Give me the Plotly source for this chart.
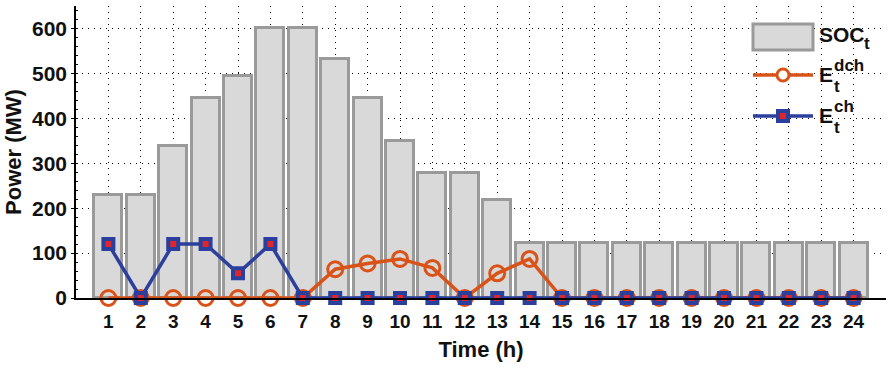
import plotly.graph_objects as go

hours = list(range(1, 25))
soc = [230, 230, 338, 445, 494, 600, 600, 531, 445, 350, 278, 278, 219,
       122, 122, 122, 122, 122, 122, 122, 122, 122, 122, 122]
e_dch = [0, 0, 0, 0, 0, 0, 0, 64, 77, 87, 67, 0, 55, 87,
         0, 0, 0, 0, 0, 0, 0, 0, 0, 0]
e_ch = [120, 0, 120, 120, 55, 120, 0, 0, 0, 0, 0, 0, 0, 0,
        0, 0, 0, 0, 0, 0, 0, 0, 0, 0]
y_ticks = [0, 100, 200, 300, 400, 500, 600]

ORANGE = "#D95319"
BLUE = "#2B3F9C"
RED = "#E0262A"
FONT = "Liberation Sans, Arial, Helvetica, sans-serif"

fig = go.Figure()
fig.add_trace(go.Bar(x=hours, y=soc, width=0.86,
                     marker=dict(color="#D9D9D9", line=dict(color="#9A9A9A", width=3)),
                     showlegend=False))
fig.add_trace(go.Scatter(x=hours, y=e_dch, mode="lines+markers", cliponaxis=False,
                         line=dict(color=ORANGE, width=3.5),
                         marker=dict(symbol="circle-open", size=15, color=ORANGE,
                                     line=dict(color=ORANGE, width=3)),
                         showlegend=False))
fig.add_trace(go.Scatter(x=hours, y=e_ch, mode="lines+markers", cliponaxis=False,
                         line=dict(color=BLUE, width=3.5),
                         marker=dict(symbol="square", size=10, color=RED,
                                     line=dict(color=BLUE, width=4)),
                         showlegend=False))

# custom legend (paper coordinates computed from pixel positions)
W, H = 887, 367
L, R, T, B = 76, 1, 6, 69
pw, ph = W - L - R, H - T - B
def px(x):
    return (x - L) / pw
def py(y):
    return (H - B - y) / ph

shapes = [
    dict(type="rect", xref="paper", yref="paper", x0=px(753), x1=px(813), y0=py(50), y1=py(24),
         fillcolor="#D9D9D9", line=dict(color="#9A9A9A", width=3)),
    dict(type="line", xref="paper", yref="paper", x0=px(753), x1=px(813), y0=py(75), y1=py(75),
         line=dict(color=ORANGE, width=3.5)),
    dict(type="circle", xref="paper", yref="paper", x0=px(777), x1=px(789), y0=py(81), y1=py(69),
         fillcolor="white", line=dict(color=ORANGE, width=3)),
    dict(type="line", xref="paper", yref="paper", x0=px(753), x1=px(813), y0=py(116), y1=py(116),
         line=dict(color=BLUE, width=3.5)),
    dict(type="rect", xref="paper", yref="paper", x0=px(778), x1=px(788), y0=py(121), y1=py(111),
         fillcolor=RED, line=dict(color=BLUE, width=4)),
]

ann_font = dict(family=FONT, size=21, color="#111111")
small_font = dict(family=FONT, size=17, color="#111111")
def ann(text, x, y, font):
    return dict(text=text, x=px(x), y=py(y), xref="paper", yref="paper",
                xanchor="left", yanchor="middle", showarrow=False, font=font,
                borderpad=0)
annotations = [
    ann("<b>SOC</b>", 818, 35, ann_font),
    ann("<b>t</b>", 863, 44, small_font),
    ann("<b>E</b>", 818, 75, ann_font),
    ann("<b>dch</b>", 833, 65, small_font),
    ann("<b>t</b>", 833, 86, small_font),
    ann("<b>E</b>", 818, 116, ann_font),
    ann("<b>ch</b>", 833, 106, small_font),
    ann("<b>t</b>", 833, 127, small_font),
]

fig.update_layout(
    width=W, height=H,
    margin=dict(l=L, r=R, t=T, b=B),
    plot_bgcolor="white", paper_bgcolor="white",
    bargap=0,
    shapes=shapes, annotations=annotations,
    font=dict(family=FONT, color="#111111"),
)
fig.update_xaxes(range=[0, 25], tickmode="array", tickvals=hours,
                 ticktext=[f"<b>{h}</b>" for h in hours],
                 tickfont=dict(size=19, family=FONT),
                 showline=True, linecolor="black", linewidth=1.5,
                 showgrid=True, gridcolor="black", gridwidth=1, griddash="1px,5px",
                 zeroline=False, ticks="", ticklabelstandoff=5,
                 title=dict(text="<b>Time (h)</b>", font=dict(size=22, family=FONT), standoff=11))
fig.update_yaxes(range=[0, 650], tickmode="array", tickvals=y_ticks,
                 ticktext=[f"<b>{v}</b>" for v in y_ticks],
                 tickfont=dict(size=21, family=FONT),
                 showline=True, linecolor="black", linewidth=1.5,
                 showgrid=True, gridcolor="black", gridwidth=1, griddash="1px,5px",
                 zeroline=False, ticks="outside", ticklen=3, tickcolor="black",
                 minor=dict(ticks="inside", ticklen=2, dtick=20, tickcolor="black", showgrid=False),
                 title=dict(text="<b>Power (MW)</b>", font=dict(size=22, family=FONT), standoff=4))

fig.write_html("out.html")
